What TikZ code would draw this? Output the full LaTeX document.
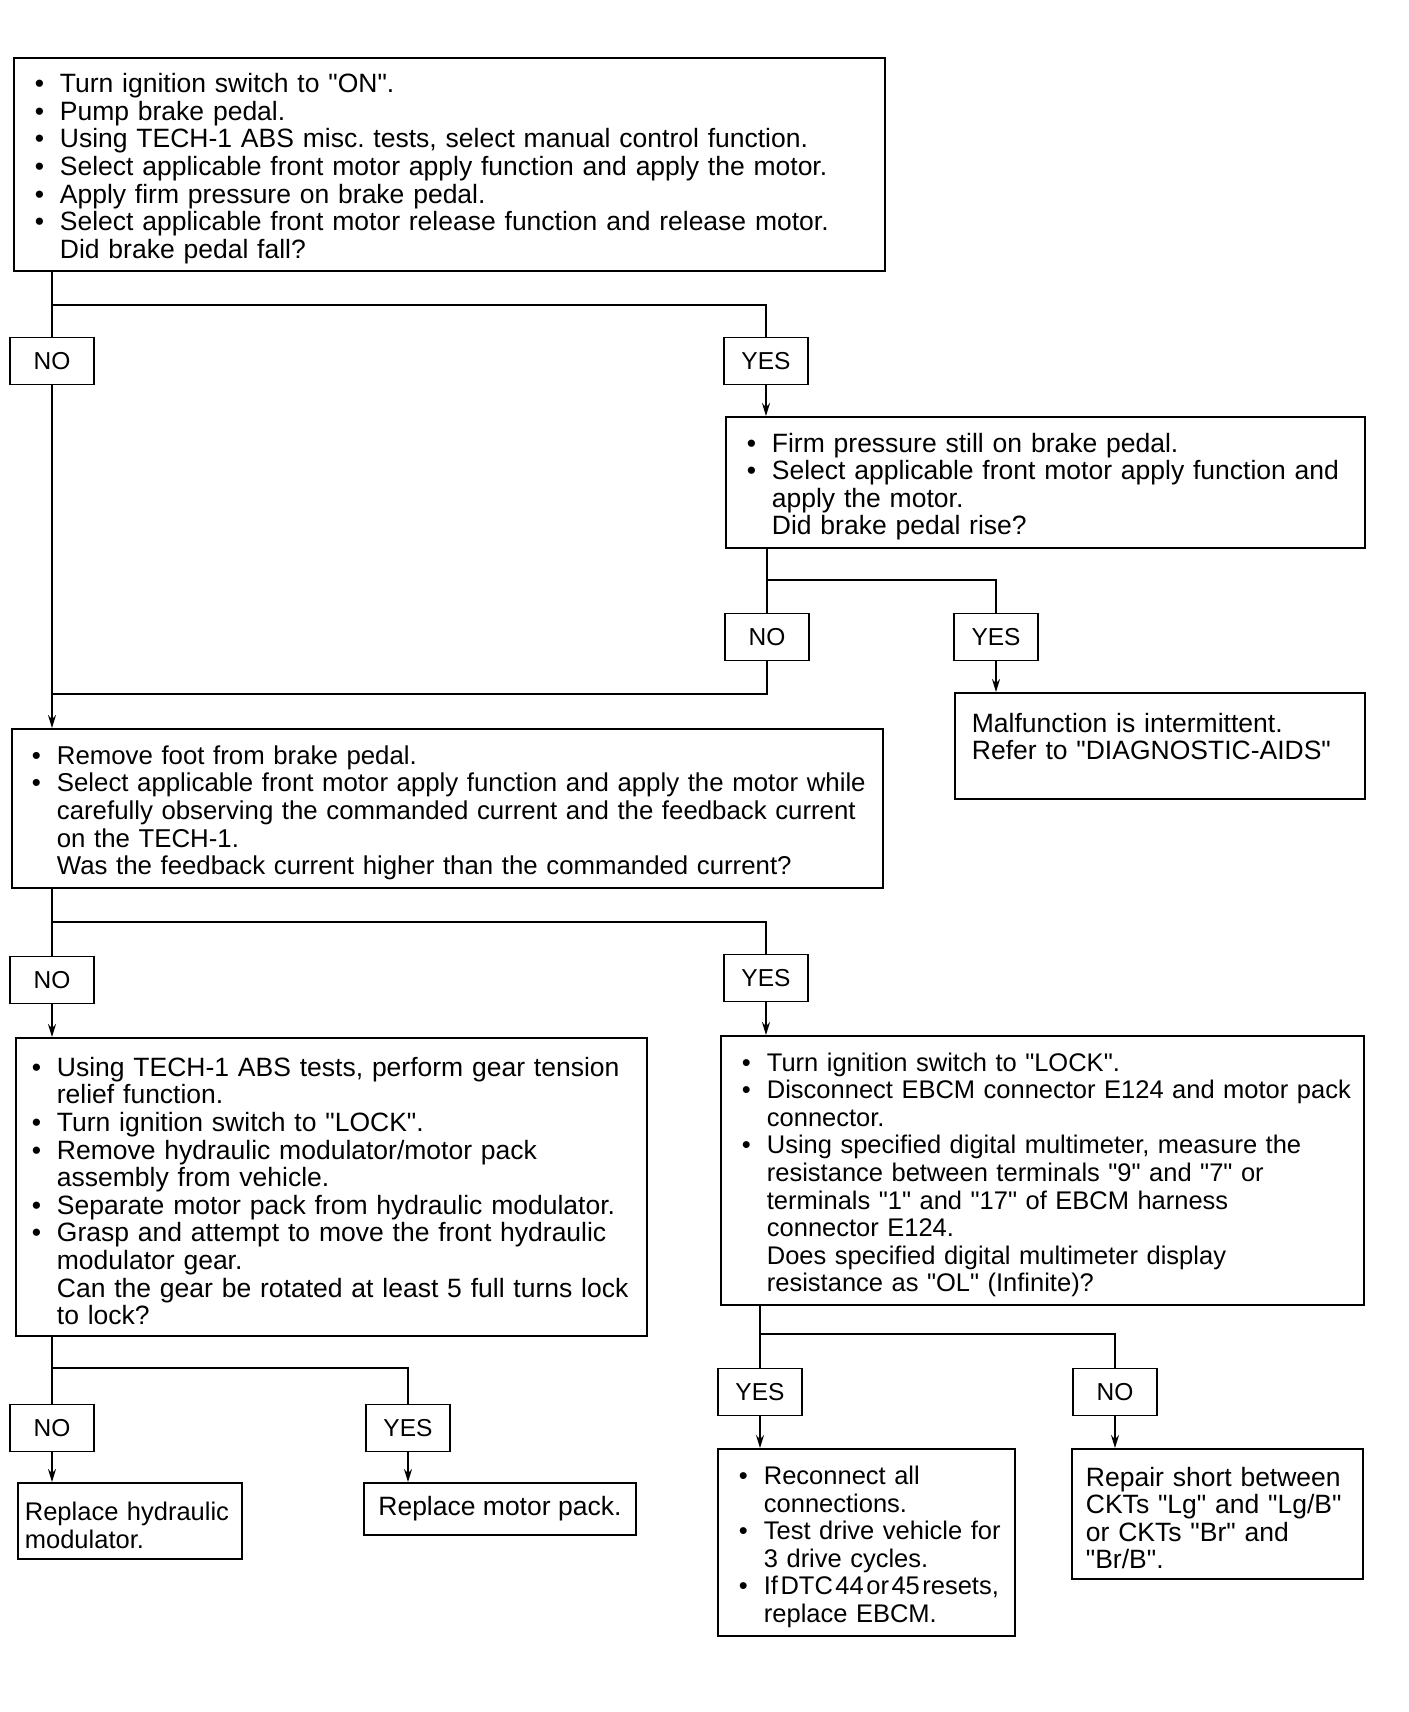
\documentclass[tikz,border=0pt]{standalone}
\usepackage{fontspec}
\setmainfont{Liberation Sans}[Ligatures=TeXOff]
\usetikzlibrary{arrows.meta,positioning}
\newcommand{\flowfont}{\fontsize{26.5}{27.6}\selectfont\frenchspacing}
\newcommand{\tightfont}{\fontsize{25.5}{27.6}\selectfont\frenchspacing}
\newlength{\bulind}
\setlength{\bulind}{36pt}
\newcommand{\bul}{\par\noindent\hangindent=\bulind\hangafter=1\makebox[\bulind][l]{\hspace{11pt}\textbullet}}
\newcommand{\ask}{\par\noindent\hangindent=\bulind\hangafter=0\relax}
\newcommand{\txt}{\par\noindent}

\begin{document}
\begin{tikzpicture}[x=1pt,y=-1pt,
    box/.style={draw,line width=1.8pt,anchor=north west,inner xsep=10pt,
                inner ysep=0pt,align=left,font=\flowfont},
    plain/.style={box,inner xsep=17pt},
    lbl/.style={draw,line width=1.8pt,minimum width=84pt,minimum height=47pt,
                inner sep=0pt,font=\fontsize{24.5}{27.6}\selectfont},
    line/.style={line width=1.8pt},
    arr/.style={line,-{Stealth[length=13pt,width=8pt]}}]
  \useasboundingbox (0,0) rectangle (1408,1712);

  % first test
  \node[box,text width=851pt,minimum height=213pt] (q1) at (13,57) {%
    \bul Turn ignition switch to "ON".
    \bul Pump brake pedal.
    \bul Using TECH-1 ABS misc. tests, select manual control function.
    \bul Select applicable front motor apply function and apply the motor.
    \bul Apply firm pressure on brake pedal.
    \bul Select applicable front motor release function and release motor.
    \ask Did brake pedal fall?\par};
  \node[lbl] (no1) at (52,361) {NO};
  \node[lbl] (yes1) at (766,361) {YES};

  \node[box,text width=619pt,minimum height=131pt] (q2) at (725,416) {%
    \bul Firm pressure still on brake pedal.
    \bul Select applicable front motor apply function and\newline apply the motor.
    \ask Did brake pedal rise?\par};
  \node[lbl] (no2) at (767,637) {NO};
  \node[lbl] (yes2) at (996,637) {YES};
  \node[plain,text width=376pt,minimum height=106pt] (fin1) at (954,692) {%
    \txt Malfunction is intermittent.\newline
    Refer to "DIAGNOSTIC-AIDS"\newline\mbox{}\par};

  % current check
  \node[box,inner xsep=9pt,text width=853pt,minimum height=159pt,
        font=\fontsize{25.8}{27.6}\selectfont\frenchspacing] (q3) at (11,728) {%
    \bul Remove foot from brake pedal.
    \bul Select applicable front motor apply function and apply the motor while\newline
    carefully observing the commanded current and the feedback current\newline
    on the TECH-1.
    \ask Was the feedback current higher than the commanded current?\par};
  \node[lbl] (no3) at (52,980) {NO};
  \node[lbl] (yes3) at (766,978) {YES};

  \node[box,inner xsep=5pt,text width=621pt,minimum height=298pt] (q4) at (15,1037) {%
    \bul Using TECH-1 ABS tests, perform gear tension\newline relief function.
    \bul Turn ignition switch to "LOCK".
    \bul Remove hydraulic modulator/motor pack\newline assembly from vehicle.
    \bul Separate motor pack from hydraulic modulator.
    \bul Grasp and attempt to move the front hydraulic\newline modulator gear.
    \ask Can the gear be rotated at least 5 full turns lock\newline to lock?\par};
  \node[box,text width=623pt,minimum height=269pt,font=\tightfont] (q5) at (720,1035) {%
    \bul Turn ignition switch to "LOCK".
    \bul Disconnect EBCM connector E124 and motor pack\newline connector.
    \bul Using specified digital multimeter, measure the\newline
    resistance between terminals "9" and "7" or\newline
    terminals "1" and "17" of EBCM harness\newline
    connector E124.
    \ask Does specified digital multimeter display\newline
    resistance as "OL" (Infinite)?\par};

  % results
  \node[lbl] (no4) at (52,1428) {NO};
  \node[lbl] (yes4) at (408,1428) {YES};
  \node[box,inner xsep=7pt,text width=210pt,minimum height=76pt,font=\tightfont] (fin2) at (17,1482) {%
    \txt Replace hydraulic\newline modulator.\par};
  \node[box,minimum width=272pt,minimum height=52pt] (fin3) at (363,1482) {Replace motor pack.};
  \node[lbl] (yes5) at (760,1392) {YES};
  \node[lbl] (no5) at (1115,1392) {NO};
  \node[box,text width=277pt,minimum height=187pt,font=\tightfont] (fin4) at (717,1448) {%
    \bul Reconnect all\newline connections.
    \bul Test drive vehicle for\newline 3 drive cycles.
    \bul {\spaceskip=2.5pt If DTC 44 or 45 resets,}\newline replace EBCM.\par};
  \node[plain,inner xsep=14pt,text width=263pt,minimum height=130pt] (fin5) at (1071,1448) {%
    \txt Repair short between\newline CKTs "Lg" and "Lg/B"\newline
    or CKTs "Br" and\newline "Br/B".\par};

  % connectors
  \coordinate (j1) at (52,305);
  \coordinate (j2) at (767,580);
  \coordinate (m1) at (52,694);
  \coordinate (j3) at (52,922);
  \coordinate (j4) at (52,1368);
  \coordinate (j5) at (760,1334);
  \draw[line] (q1.south -| no1) -- (no1);
  \draw[line] (j1) -| (yes1);
  \draw[arr] (yes1) -- (q2.north -| yes1);
  \draw[line] (q2.south -| no2) -- (no2);
  \draw[line] (j2) -| (yes2);
  \draw[arr] (yes2) -- (fin1.north -| yes2);
  \draw[line] (no2) |- (m1);
  \draw[arr] (no1) -- (q3.north -| no1);
  \draw[line] (q3.south -| no3) -- (no3);
  \draw[line] (j3) -| (yes3);
  \draw[arr] (no3) -- (q4.north -| no3);
  \draw[arr] (yes3) -- (q5.north -| yes3);
  \draw[line] (q4.south -| no4) -- (no4);
  \draw[line] (j4) -| (yes4);
  \draw[arr] (no4) -- (fin2.north -| no4);
  \draw[arr] (yes4) -- (fin3.north -| yes4);
  \draw[line] (q5.south -| yes5) -- (yes5);
  \draw[line] (j5) -| (no5);
  \draw[arr] (yes5) -- (fin4.north -| yes5);
  \draw[arr] (no5) -- (fin5.north -| no5);
\end{tikzpicture}
\end{document}
